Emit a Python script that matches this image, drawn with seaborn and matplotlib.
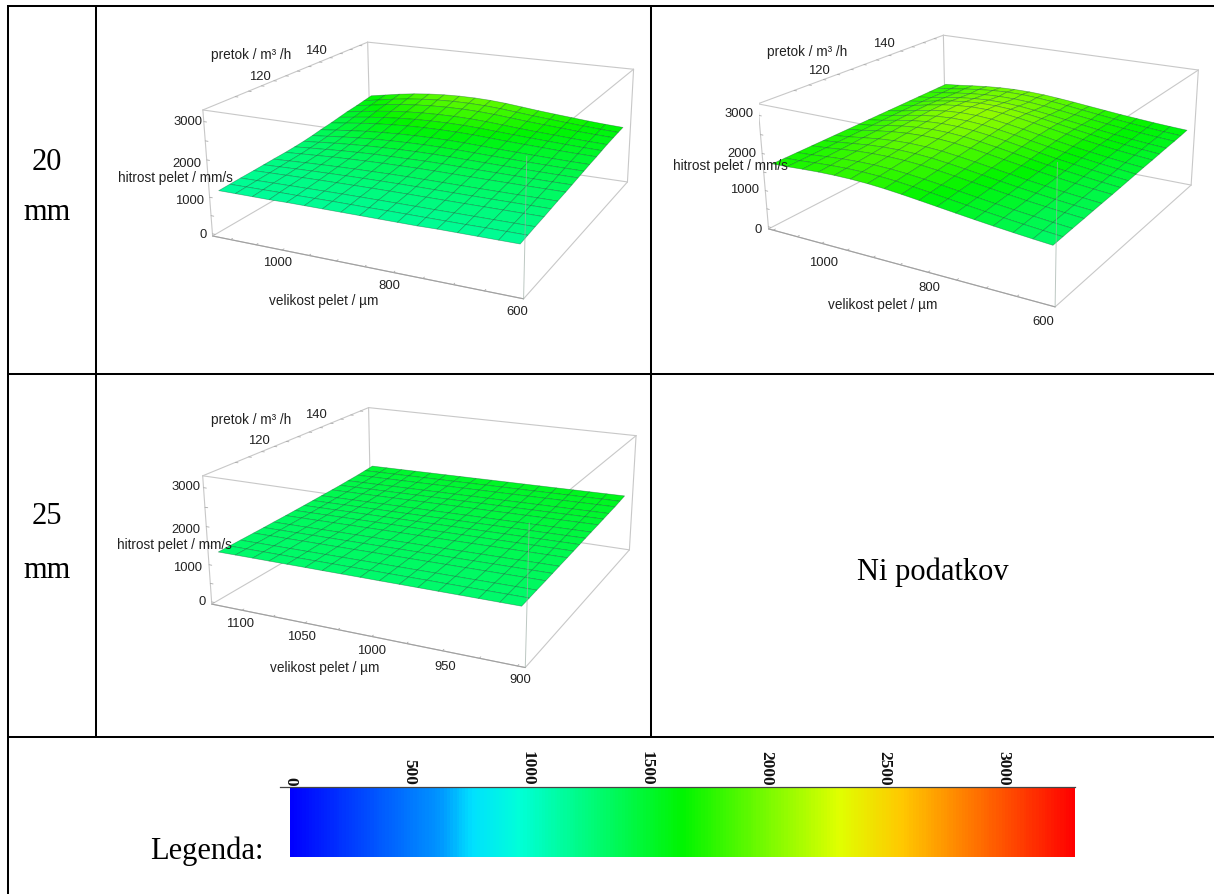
import matplotlib
matplotlib.use('Agg')
import numpy as np
import matplotlib.pyplot as plt
import seaborn as sns
from matplotlib.colors import LinearSegmentedColormap, Normalize
from matplotlib.lines import Line2D

W, H = 1214, 895

# flow on the grid, same in all three plots (m3/h)
flow = [90, 94, 98, 103, 107, 111, 116, 120, 124, 128, 132, 137, 141, 145, 150, 154, 158]

# pellet size on the grid (um)
size_20a = [1125, 1092, 1059, 1027, 994, 961, 928, 895, 862, 830, 797, 764, 731, 698, 666, 633, 600]
size_20b = [1100, 1069, 1038, 1006, 975, 944, 912, 881, 850, 819, 788, 756, 725, 694, 662, 631, 600]
size_25 = [1120, 1106, 1092, 1079, 1065, 1051, 1038, 1024, 1010, 996, 982, 969, 955, 941, 928, 914, 900]

speed_20a = [
    [1150, 1150, 1150, 1150, 1160, 1160, 1160, 1160, 1160, 1160, 1160, 1160, 1170, 1170, 1170, 1170, 1170],
    [1165, 1170, 1175, 1180, 1180, 1185, 1190, 1190, 1190, 1195, 1195, 1195, 1195, 1195, 1200, 1200, 1200],
    [1180, 1188, 1196, 1203, 1209, 1215, 1220, 1222, 1224, 1225, 1225, 1225, 1226, 1226, 1227, 1228, 1230],
    [1195, 1207, 1218, 1228, 1237, 1244, 1250, 1254, 1256, 1257, 1256, 1256, 1256, 1257, 1257, 1258, 1260],
    [1210, 1226, 1243, 1257, 1268, 1278, 1285, 1290, 1293, 1293, 1292, 1290, 1289, 1288, 1288, 1289, 1290],
    [1225, 1246, 1267, 1285, 1300, 1312, 1320, 1327, 1330, 1329, 1326, 1323, 1321, 1320, 1319, 1319, 1320],
    [1240, 1267, 1294, 1317, 1336, 1350, 1361, 1368, 1372, 1370, 1365, 1360, 1356, 1354, 1351, 1350, 1350],
    [1260, 1294, 1325, 1356, 1379, 1397, 1405, 1412, 1420, 1417, 1408, 1400, 1394, 1389, 1384, 1380, 1380],
    [1285, 1325, 1366, 1399, 1427, 1447, 1462, 1470, 1471, 1465, 1454, 1443, 1434, 1425, 1417, 1412, 1410],
    [1320, 1366, 1413, 1451, 1482, 1505, 1520, 1528, 1527, 1519, 1503, 1487, 1475, 1463, 1453, 1444, 1440],
    [1365, 1417, 1468, 1511, 1544, 1569, 1585, 1591, 1589, 1577, 1557, 1536, 1520, 1504, 1489, 1477, 1470],
    [1410, 1468, 1526, 1574, 1611, 1638, 1654, 1659, 1655, 1639, 1613, 1588, 1565, 1546, 1526, 1511, 1500],
    [1455, 1520, 1584, 1637, 1678, 1707, 1723, 1728, 1721, 1701, 1670, 1639, 1612, 1588, 1564, 1544, 1530],
    [1500, 1572, 1643, 1700, 1745, 1776, 1792, 1796, 1787, 1764, 1727, 1690, 1658, 1630, 1602, 1578, 1560],
    [1540, 1618, 1696, 1758, 1806, 1839, 1857, 1860, 1847, 1820, 1778, 1736, 1700, 1667, 1633, 1606, 1585],
    [1580, 1663, 1746, 1813, 1862, 1897, 1915, 1916, 1902, 1870, 1824, 1776, 1736, 1698, 1661, 1629, 1605],
    [1620, 1705, 1790, 1858, 1909, 1943, 1960, 1960, 1943, 1909, 1858, 1807, 1763, 1722, 1681, 1647, 1620],
]
speed_20b = [
    [1700, 1716, 1742, 1764, 1773, 1772, 1756, 1725, 1682, 1633, 1581, 1528, 1478, 1431, 1386, 1346, 1310],
    [1705, 1726, 1759, 1786, 1801, 1802, 1786, 1757, 1713, 1663, 1607, 1552, 1500, 1451, 1406, 1365, 1328],
    [1710, 1736, 1774, 1808, 1827, 1831, 1818, 1788, 1743, 1691, 1634, 1576, 1522, 1473, 1426, 1382, 1346],
    [1715, 1747, 1793, 1833, 1857, 1864, 1853, 1823, 1777, 1722, 1663, 1603, 1545, 1494, 1445, 1402, 1364],
    [1720, 1758, 1810, 1857, 1886, 1897, 1887, 1858, 1810, 1753, 1690, 1628, 1568, 1514, 1463, 1418, 1382],
    [1725, 1770, 1830, 1884, 1919, 1934, 1926, 1897, 1846, 1787, 1721, 1656, 1593, 1537, 1483, 1437, 1397],
    [1730, 1781, 1850, 1911, 1951, 1970, 1965, 1934, 1882, 1821, 1752, 1682, 1618, 1559, 1504, 1455, 1415],
    [1735, 1792, 1867, 1935, 1980, 2003, 2000, 1969, 1917, 1852, 1781, 1708, 1640, 1580, 1523, 1474, 1432],
    [1740, 1802, 1884, 1957, 2008, 2034, 2031, 2000, 1946, 1881, 1807, 1733, 1663, 1601, 1543, 1493, 1450],
    [1745, 1812, 1898, 1977, 2031, 2059, 2059, 2029, 1974, 1907, 1831, 1755, 1683, 1620, 1561, 1511, 1468],
    [1750, 1820, 1911, 1995, 2051, 2083, 2083, 2054, 1998, 1930, 1853, 1776, 1703, 1640, 1579, 1529, 1486],
    [1755, 1825, 1917, 2000, 2056, 2088, 2089, 2060, 2006, 1939, 1864, 1788, 1717, 1654, 1595, 1546, 1504],
    [1760, 1826, 1911, 1989, 2043, 2073, 2074, 2047, 1996, 1933, 1861, 1790, 1722, 1662, 1607, 1561, 1522],
    [1765, 1823, 1899, 1967, 2014, 2040, 2040, 2015, 1968, 1911, 1846, 1782, 1721, 1666, 1616, 1574, 1540],
    [1770, 1819, 1883, 1940, 1980, 2000, 2000, 1976, 1935, 1884, 1828, 1771, 1718, 1670, 1625, 1588, 1556],
    [1775, 1824, 1889, 1947, 1988, 2010, 2009, 1987, 1946, 1897, 1841, 1785, 1733, 1685, 1642, 1605, 1574],
    [1780, 1821, 1875, 1923, 1956, 1973, 1972, 1953, 1917, 1875, 1827, 1779, 1733, 1694, 1655, 1623, 1596],
]
speed_25 = [
    [1310, 1310, 1310, 1309, 1309, 1309, 1308, 1308, 1308, 1307, 1307, 1307, 1306, 1306, 1306, 1305, 1305],
    [1315, 1315, 1316, 1316, 1316, 1317, 1317, 1317, 1318, 1318, 1318, 1319, 1319, 1319, 1320, 1320, 1320],
    [1320, 1321, 1322, 1323, 1324, 1325, 1326, 1327, 1328, 1328, 1329, 1330, 1331, 1332, 1333, 1334, 1335],
    [1326, 1328, 1329, 1331, 1332, 1334, 1335, 1337, 1338, 1340, 1341, 1343, 1344, 1346, 1347, 1349, 1350],
    [1332, 1334, 1336, 1338, 1340, 1342, 1344, 1346, 1349, 1351, 1353, 1355, 1357, 1359, 1361, 1363, 1365],
    [1340, 1343, 1345, 1348, 1351, 1353, 1356, 1358, 1361, 1364, 1366, 1369, 1372, 1374, 1377, 1379, 1382],
    [1348, 1351, 1354, 1357, 1361, 1364, 1367, 1370, 1373, 1376, 1379, 1382, 1386, 1389, 1392, 1395, 1398],
    [1357, 1361, 1364, 1368, 1371, 1375, 1378, 1382, 1386, 1389, 1393, 1396, 1400, 1403, 1407, 1410, 1414],
    [1366, 1370, 1374, 1378, 1382, 1386, 1390, 1394, 1398, 1402, 1406, 1410, 1414, 1418, 1422, 1426, 1430],
    [1376, 1380, 1385, 1389, 1394, 1398, 1403, 1407, 1412, 1416, 1420, 1425, 1429, 1434, 1438, 1443, 1447],
    [1387, 1392, 1397, 1401, 1406, 1411, 1416, 1420, 1425, 1430, 1435, 1439, 1444, 1449, 1454, 1458, 1463],
    [1399, 1404, 1409, 1414, 1419, 1424, 1429, 1434, 1440, 1445, 1450, 1455, 1460, 1465, 1470, 1475, 1480],
    [1412, 1417, 1423, 1428, 1433, 1439, 1444, 1449, 1455, 1460, 1465, 1470, 1476, 1481, 1486, 1492, 1497],
    [1428, 1433, 1439, 1444, 1449, 1455, 1460, 1465, 1471, 1476, 1481, 1486, 1492, 1497, 1502, 1508, 1513],
    [1447, 1452, 1457, 1463, 1468, 1473, 1478, 1483, 1489, 1494, 1499, 1504, 1509, 1515, 1520, 1525, 1530],
    [1470, 1475, 1481, 1486, 1491, 1497, 1502, 1507, 1513, 1518, 1523, 1528, 1534, 1539, 1544, 1550, 1555],
    [1495, 1500, 1505, 1511, 1516, 1521, 1526, 1531, 1537, 1542, 1547, 1552, 1557, 1563, 1568, 1573, 1578],
]

# axis ticks
flow_ticks = [100, 105, 110, 115, 120, 125, 130, 135, 140, 145, 150, 155]
speed_ticks = [0, 500, 1000, 1500, 2000, 2500, 3000]
size_ticks_20 = [650, 700, 750, 800, 850, 900, 950, 1000, 1050, 1100]
size_ticks_25 = [900, 925, 950, 975, 1000, 1025, 1050, 1075, 1100]
legend_ticks = [0, 500, 1000, 1500, 2000, 2500, 3000]
legend_minor = [100, 200, 300, 400, 600, 700, 800, 900, 1100, 1200, 1300, 1400, 1600, 1700, 1800, 1900,
                2100, 2200, 2300, 2400, 2600, 2700, 2800, 2900, 3100, 3200]

speed_max = 3300
hue = LinearSegmentedColormap.from_list(
    'hue', [(0, '#0000ff'), (0.19, '#0096ff'), (0.23, '#00e0ff'), (0.29, '#00ffd8'), (0.5, '#00f500'),
            (0.7, '#e0ff00'), (0.78, '#ffc800'), (1, '#ff0000')])
norm = Normalize(0, speed_max)

sns.set_theme(style='white')
plt.rcParams['font.family'] = ['Liberation Sans', 'DejaVu Sans']

fig = plt.figure(figsize=(W / 100, H / 100), dpi=100)


def px_text(x, y, s, **kw):
    # text placed by picture pixels
    kw.setdefault('ha', 'center')
    kw.setdefault('va', 'center')
    return fig.text(x / W, 1 - y / H, s, **kw)


def draw_panel(size, speed, view, box, xlim, size_ticks, texts):
    left, bottom, side = box
    ax = fig.add_axes([left / W, bottom / H, side / W, side / H], projection='3d', computed_zorder=False)
    ax.set_axis_off()
    ax.patch.set_alpha(0)
    elev, azim, roll, focal, bx, by = view
    ax.view_init(elev=elev, azim=azim, roll=roll)
    ax.set_proj_type('persp', focal_length=focal)
    ax.set_box_aspect((bx, by, 1))
    x0, x1 = xlim
    y0, y1 = 88.6, 159.4
    z0, z1 = -60, speed_max
    ax.set_xlim(x0, x1, view_margin=0)
    ax.set_ylim(y0, y1, view_margin=0)
    ax.set_zlim(z0, z1, view_margin=0)

    # box edges go under the surface, as in the original
    edge = dict(color='#c8c8c8', lw=0.8, zorder=1)
    for zz in (z0, z1):
        ax.plot([x0, x1], [y0, y0], [zz, zz], **edge)
        ax.plot([x1, x1], [y0, y1], [zz, zz], **edge)
        ax.plot([x1, x0], [y1, y1], [zz, zz], **edge)
        ax.plot([x0, x0], [y1, y0], [zz, zz], **edge)
    for xx, yy in ((x0, y0), (x1, y1), (x0, y1)):
        ax.plot([xx, xx], [yy, yy], [z0, z1], **edge)
    ax.plot([x0, x1], [y0, y0], [z0, z0], color='#a0a0a0', lw=0.8, zorder=1)

    # tick marks
    tick = dict(color='#aaaaaa', lw=0.6, zorder=1)
    for v in size_ticks:
        ax.plot([v, v], [y0, y0 + 0.01 * (y1 - y0)], [z0, z0], **tick)
    for v in flow_ticks:
        ax.plot([x0, x0 + 0.01 * (x1 - x0)], [v, v], [z1, z1], **tick)
    for v in speed_ticks:
        ax.plot([x0, x0 + 0.01 * (x1 - x0)], [y0, y0], [v, v], **tick)

    # surface, each cell coloured by the mean of its corners
    X, Y = np.meshgrid(size, flow)
    Z = np.array(speed, dtype=float)
    cell = (Z[:-1, :-1] + Z[1:, :-1] + Z[:-1, 1:] + Z[1:, 1:]) / 4
    ax.plot_surface(X, Y, Z, rstride=1, cstride=1, facecolors=hue(norm(cell)), shade=False,
                    edgecolor=(0, 0.3, 0.15, 0.42), linewidth=0.5, zorder=2)
    # near vertical edge shows faintly over the surface
    ax.plot([x1, x1], [y0, y0], [z0, z1], color='#a0b0a8', lw=0.7, alpha=0.7, zorder=3)

    for x, y, s in texts['ticks']:
        px_text(x, y, s, fontsize=9.4, color='#222222')
    for x, y, s in texts['labels']:
        px_text(x, y, s, fontsize=9.8, color='#222222')


draw_panel(size_20a, speed_20a,
           view=(18.311, -64.145, 0.396, 0.439, 2.532, 2.484), box=(202.3, 514.9, 448.3),
           xlim=(1136, 589), size_ticks=size_ticks_20,
           texts=dict(ticks=[(315.7, 50.7, '140'), (259.6, 76.7, '120'),
                             (187.7, 121.7, '3000'), (187, 164, '2000'), (189.4, 201, '1000'), (202.8, 235, '0'),
                             (277.8, 263.3, '1000'), (389.4, 286, '800'), (517.4, 312.3, '600')],
                      labels=[(251, 55, 'pretok / m³ /h'), (175.4, 178.3, 'hitrost pelet / mm/s'),
                              (323.8, 301, 'velikost pelet / µm')]))
draw_panel(size_20b, speed_20b,
           view=(19.578, -58.895, 0.423, 0.428, 2.466, 2.468), box=(759.4, 516.7, 448.0),
           xlim=(1110, 590), size_ticks=size_ticks_20,
           texts=dict(ticks=[(884, 44, '140'), (818.9, 71, '120'),
                             (738.9, 114.3, '3000'), (741.7, 154.3, '2000'), (744.2, 190, '1000'), (758.4, 230.3, '0'),
                             (823.1, 262.7, '1000'), (929.3, 288.3, '800'), (1043.3, 322.3, '600')],
                      labels=[(807, 52.3, 'pretok / m³ /h'), (730, 166, 'hitrost pelet / mm/s'),
                              (882.6, 305, 'velikost pelet / µm')]))
draw_panel(size_25, speed_25,
           view=(18.219, -64.58, 0.091, 0.443, 2.505, 2.488), box=(201.2, 145.4, 453.1),
           xlim=(1125, 895), size_ticks=size_ticks_25,
           texts=dict(ticks=[(315.7, 415, '140'), (258.9, 441, '120'),
                             (185.9, 487.3, '3000'), (185.9, 530, '2000'), (187.7, 567.7, '1000'), (202.4, 601.7, '0'),
                             (240.3, 624.3, '1100'), (301.7, 637.3, '1050'), (371.1, 650.7, '1000'),
                             (444.8, 667, '950'), (519.9, 680, '900')],
                      labels=[(250.8, 420, 'pretok / m³ /h'), (174.4, 545, 'hitrost pelet / mm/s'),
                              (324.5, 668, 'velikost pelet / µm')]))

# legend strip, drawn as a one row heatmap
step = 4
gradient = np.arange(0, speed_max, step).reshape(1, -1)
bar_left, bar_right, bar_top, bar_bottom, axis_left = 290, 1075, 788, 858, 280
cax = fig.add_axes([axis_left / W, 1 - bar_bottom / H, (bar_right - axis_left) / W, (bar_bottom - bar_top) / H])
sns.heatmap(gradient, cmap=hue, vmin=0, vmax=speed_max, cbar=False, ax=cax, xticklabels=False, yticklabels=False)
n_cells = gradient.shape[1]
cax.set_xlim(-(bar_left - axis_left) / (bar_right - bar_left) * n_cells, n_cells)
cax.set_xticks([v / step for v in legend_ticks])
cax.set_xticks([v / step for v in legend_minor], minor=True)
cax.set_xticklabels([str(v) for v in legend_ticks], rotation=270, fontsize=12.5, fontweight='bold',
                    family='Liberation Serif', color='#111111', ha='center', va='bottom')
cax.tick_params(axis='x', which='major', top=True, bottom=False, labeltop=True, labelbottom=False,
                direction='in', length=2.5, width=0.7, color='#333333', pad=2)
cax.tick_params(axis='x', which='minor', top=True, bottom=False, direction='in', length=1.5, width=0.6,
                color='#333333')
cax.set_yticks([])
for name, spine in cax.spines.items():
    spine.set_visible(name == 'top')
cax.spines['top'].set_color('#444444')
cax.spines['top'].set_linewidth(0.9)

# table rules
rules = [(7, 6.5, 1214, 6.5), (7, 375, 1214, 375), (7, 738, 1214, 738),
         (7.5, 6, 7.5, 895), (96, 6, 96, 738), (651, 6, 651, 738)]
for xa, ya, xb, yb in rules:
    fig.add_artist(Line2D([xa / W, xb / W], [1 - ya / H, 1 - yb / H], color='black', lw=1.45,
                          transform=fig.transFigure, solid_capstyle='butt'))

serif = dict(fontsize=22, family='Liberation Serif', color='black')
px_text(47, 163, '20', **serif)
px_text(47, 213, 'mm', **serif)
px_text(47, 517, '25', **serif)
px_text(47, 570, 'mm', **serif)
px_text(933, 572, 'Ni podatkov', **serif)
px_text(207, 851, 'Legenda:', **serif)

fig.savefig('out.png', dpi=100)
plt.close(fig)
